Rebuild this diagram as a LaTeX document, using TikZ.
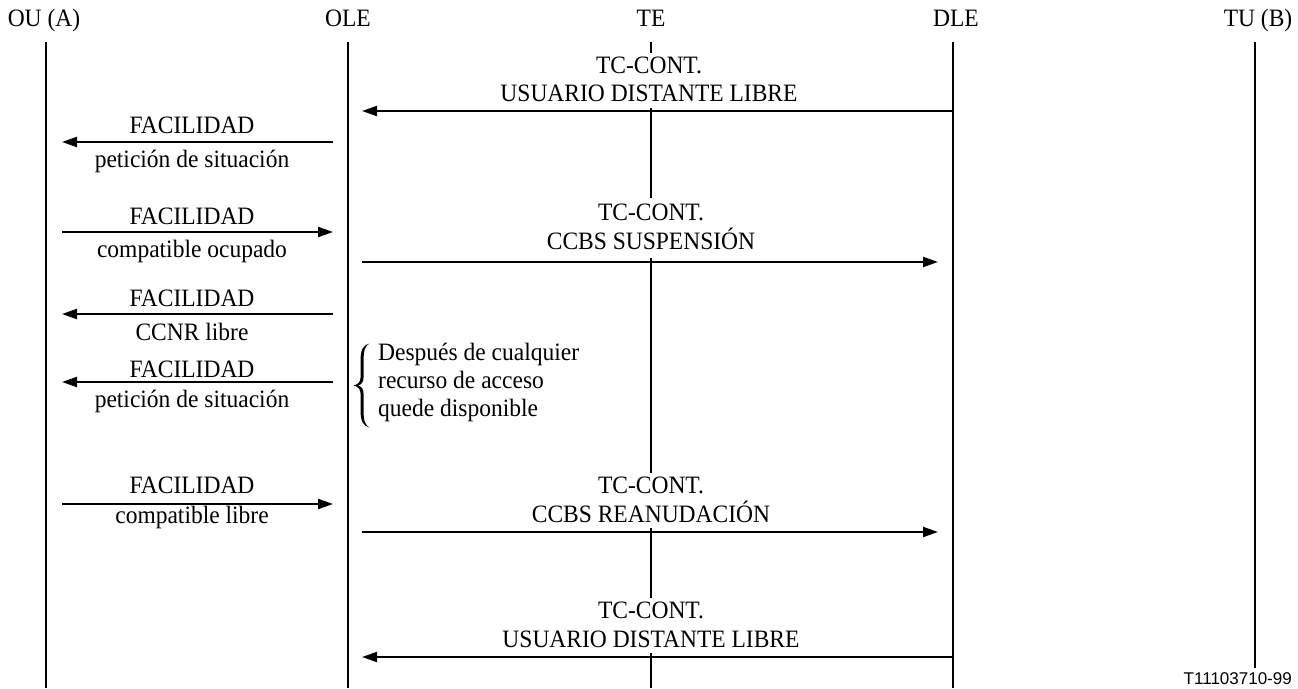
\documentclass[tikz,border=0pt]{standalone}
\usepackage{fontspec}
\setmainfont{Liberation Serif}[FakeStretch=0.94]
\newfontfamily\labsans{Liberation Sans}
\usetikzlibrary{arrows.meta}
\begin{document}
\begin{tikzpicture}[x=1pt,y=-1pt,
  lifeline/.style={line width=2pt},
  msg/.style={line width=2pt,-{Triangle[length=15pt,width=10pt]}},
  hdr/.style={font=\fontsize{25}{30}\selectfont,inner sep=0pt,anchor=base},
  lab/.style={font=\fontsize{25}{30}\selectfont,inner sep=0pt,anchor=base}]
\useasboundingbox (0,0) rectangle (1298,688);
% headers
\node[hdr] (ou) at (44,27) {OU (A)};
\node[hdr] (ole) at (348,27) {OLE};
\node[hdr] (te) at (651,27) {TE};
\node[hdr] (dle) at (956,27) {DLE};
\node[hdr] (tu) at (1258,27) {TU (B)};
% lifeline ends
\coordinate (ouT) at (46,42);   \coordinate (ouB) at (46,688);
\coordinate (oleT) at (348,42); \coordinate (oleB) at (348,688);
\coordinate (dleT) at (953,42); \coordinate (dleB) at (953,688);
\coordinate (tuT) at (1255,42); \coordinate (tuB) at (1255,668);
\draw[lifeline] (ouT) -- (ouB);
\draw[lifeline] (oleT) -- (oleB);
\draw[lifeline] (dleT) -- (dleB);
\draw[lifeline] (tuT) -- (tuB);
% TE line segments
\coordinate (te1) at (651,42);  \coordinate (te2) at (651,53);
\coordinate (te3) at (651,108); \coordinate (te4) at (651,198);
\coordinate (te5) at (651,258); \coordinate (te6) at (651,473);
\coordinate (te7) at (651,528); \coordinate (te8) at (651,598);
\coordinate (te9) at (651,653); \coordinate (te10) at (651,688);
\draw[lifeline] (te1) -- (te2);
\draw[lifeline] (te3) -- (te4);
\draw[lifeline] (te5) -- (te6);
\draw[lifeline] (te7) -- (te8);
\draw[lifeline] (te9) -- (te10);
% message 1
\coordinate (m1s) at (953,111); \coordinate (m1e) at (362,111);
\draw[msg] (m1s) -- (m1e);
\node[lab] (m1a) at (649,73) {TC-CONT.};
\node[lab] (m1b) at (649,101) {USUARIO DISTANTE LIBRE};
% message 2
\coordinate (m2s) at (333,142); \coordinate (m2e) at (62,142);
\draw[msg] (m2s) -- (m2e);
\node[lab] (m2a) at (192,133) {FACILIDAD};
\node[lab] (m2b) at (192,167) {petición de situación};
% message 3
\coordinate (m3s) at (62,232); \coordinate (m3e) at (333,232);
\draw[msg] (m3s) -- (m3e);
\node[lab] (m3a) at (192,224) {FACILIDAD};
\node[lab] (m3b) at (192,257) {compatible ocupado};
% message 4
\coordinate (m4s) at (362,262); \coordinate (m4e) at (938,262);
\draw[msg] (m4s) -- (m4e);
\node[lab] (m4a) at (651,220) {TC-CONT.};
\node[lab] (m4b) at (651,249) {CCBS SUSPENSIÓN};
% message 5
\coordinate (m5s) at (333,314); \coordinate (m5e) at (62,314);
\draw[msg] (m5s) -- (m5e);
\node[lab] (m5a) at (192,306) {FACILIDAD};
\node[lab] (m5b) at (192,340) {CCNR libre};
% message 6
\coordinate (m6s) at (333,382); \coordinate (m6e) at (62,382);
\draw[msg] (m6s) -- (m6e);
\node[lab] (m6a) at (192,377) {FACILIDAD};
\node[lab] (m6b) at (192,407) {petición de situación};
% brace (drawn as a filled shape) and note
\fill (369.5,343.5) .. controls (363,345) and (360.6,350) .. (360.6,360)
  -- (360.6,377) .. controls (360.6,382) and (358,384.5) .. (353.5,385.5)
  .. controls (358,386.5) and (360.6,389) .. (360.6,394)
  -- (360.6,411) .. controls (360.6,421) and (363,426) .. (369.5,427.5)
  .. controls (365,425) and (363.6,421) .. (363.6,411)
  -- (363.6,394) .. controls (363.6,389) and (361.5,386.5) .. (358,385.5)
  .. controls (361.5,384.5) and (363.6,382) .. (363.6,377)
  -- (363.6,360) .. controls (363.6,350) and (365,346) .. (369.5,343.5) -- cycle;
\node[lab,anchor=base west] (n1) at (378,360) {Después de cualquier};
\node[lab,anchor=base west] (n2) at (378,388) {recurso de acceso};
\node[lab,anchor=base west] (n3) at (378,416) {quede disponible};
% message 8
\coordinate (m8s) at (62,504); \coordinate (m8e) at (333,504);
\draw[msg] (m8s) -- (m8e);
\node[lab] (m8a) at (192,493) {FACILIDAD};
\node[lab] (m8b) at (192,523) {compatible libre};
% message 9
\coordinate (m9s) at (362,532); \coordinate (m9e) at (938,532);
\draw[msg] (m9s) -- (m9e);
\node[lab] (m9a) at (651,493) {TC-CONT.};
\node[lab] (m9b) at (651,522) {CCBS REANUDACIÓN};
% message 10
\coordinate (m10s) at (953,657); \coordinate (m10e) at (362,657);
\draw[msg] (m10s) -- (m10e);
\node[lab] (m10a) at (651,618) {TC-CONT.};
\node[lab] (m10b) at (651,647) {USUARIO DISTANTE LIBRE};
% figure id
\node[font=\labsans\fontsize{17}{20}\selectfont,inner sep=0pt,anchor=base east] (fid) at (1292,684) {T11103710-99};
\end{tikzpicture}
\end{document}
